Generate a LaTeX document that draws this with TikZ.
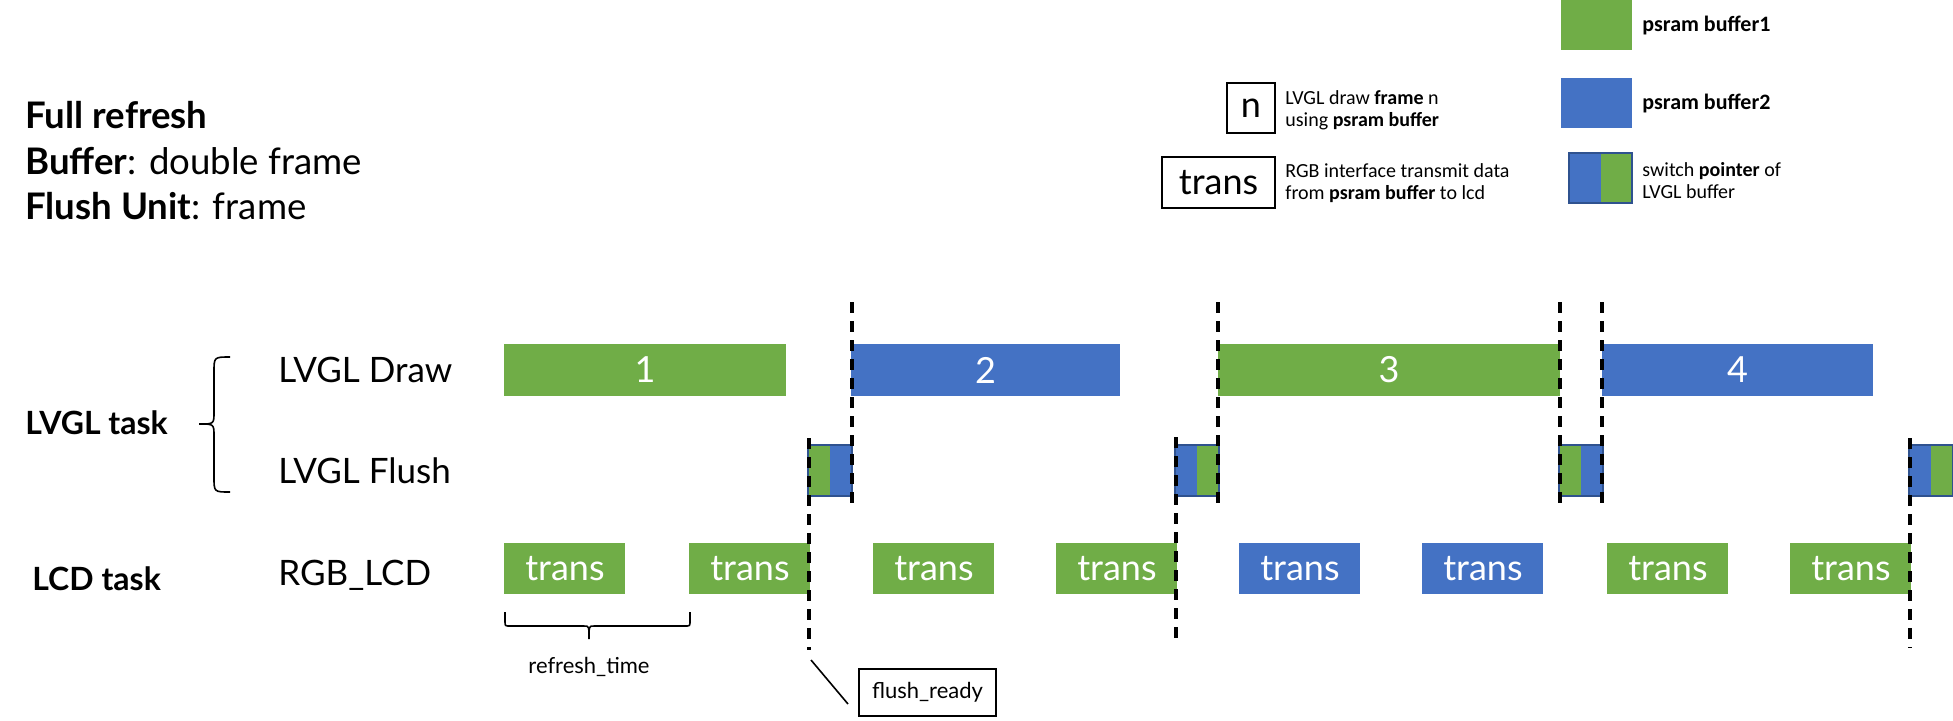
\documentclass[tikz,border=0pt]{standalone}
\usepackage{fontspec}
\setmainfont{Lato}
\newfontfamily\legendfont{Carlito}
\definecolor{bufgreen}{HTML}{70AD47}
\definecolor{bufblue}{HTML}{4472C4}
\definecolor{ptrblue}{HTML}{2F528F}
\begin{document}
\begin{tikzpicture}[x=0.5pt,y=-0.5pt,
	bar/.style={inner sep=0pt,minimum height=26pt,text=white,font=\fontsize{18}{20}\selectfont},
	transbox/.style={inner sep=0pt,minimum width=60.5pt,minimum height=25.5pt,text=white,font=\fontsize{18}{20}\selectfont},
	ptrbox/.style={inner sep=0pt,minimum width=22pt,minimum height=25.5pt},
	rowlabel/.style={anchor=base west,inner sep=0pt,font=\fontsize{17.5}{20}\selectfont},
	tasklabel/.style={anchor=base west,inner sep=0pt,font=\bfseries\fontsize{16}{18}\selectfont},
	guide/.style={line width=1.6pt,dash pattern=on 5.5pt off 4pt},
	legendtext/.style={anchor=west,inner sep=0pt,align=left,font=\legendfont\fontsize{10}{11}\selectfont}]
	\useasboundingbox (0,0) rectangle (1953,720);

	% title
	\node[anchor=base west,inner sep=0pt,font=\fontsize{18.3}{21}\selectfont] (t1) at (25,128) {\textbf{Full refresh}};
	\node[anchor=base west,inner sep=0pt,font=\fontsize{18.3}{21}\selectfont] (t2) at (25,174) {\textbf{Buffer}: double frame};
	\node[anchor=base west,inner sep=0pt,font=\fontsize{18.3}{21}\selectfont] (t3) at (25,219) {\textbf{Flush Unit}: frame};

	% legend
	\node[fill=bufgreen,inner sep=0pt,minimum width=35.5pt,minimum height=25pt] (sw1) at (1596.5,25) {};
	\node[legendtext,font=\legendfont\bfseries\fontsize{11}{12}\selectfont] (sw1t) at (1642,25) {psram buffer1};
	\node[fill=bufblue,inner sep=0pt,minimum width=35.5pt,minimum height=25pt] (sw2) at (1596.5,103) {};
	\node[legendtext,font=\legendfont\bfseries\fontsize{11}{12}\selectfont] (sw2t) at (1642,103) {psram buffer2};
	\node[inner sep=0pt,minimum width=31.5pt,minimum height=25pt] (sw3) at (1600.5,178) {};
	\fill[bufblue] (sw3.north west) rectangle (sw3.south);
	\fill[bufgreen] (sw3.north) rectangle (sw3.south east);
	\draw[ptrblue,line width=1pt] (sw3.north west) rectangle (sw3.south east);
	\node[legendtext] (sw3t) at (1642,181) {switch \textbf{pointer} of\\LVGL buffer};
	\node[draw,line width=1pt,inner sep=0pt,minimum width=24pt,minimum height=25pt,font=\fontsize{18}{20}\selectfont] (nbox) at (1251,108) {n};
	\node[legendtext] (nboxt) at (1285,110) {LVGL draw \textbf{frame} n\\using \textbf{psram buffer}};
	\node[draw,line width=1pt,inner sep=0pt,minimum width=56.5pt,minimum height=25.5pt,font=\fontsize{18}{20}\selectfont] (tbox) at (1218.5,182.5) {trans};
	\node[legendtext] (tboxt) at (1285,183) {RGB interface transmit data\\from \textbf{psram buffer} to lcd};

	% rows
	\node[tasklabel] (lvgltask) at (25,434) {LVGL task};
	\node[tasklabel] (lcdtask) at (32,590) {LCD task};
	\node[rowlabel] (draw) at (278,382) {LVGL Draw};
	\node[rowlabel] (flush) at (278,483) {LVGL Flush};
	\node[rowlabel] (rgb) at (278,585) {RGB\_LCD};
	\draw[line width=0.8pt] (230,357) .. controls (214,357) .. (214,372) -- (214,412) .. controls (214,424) .. (199,424) .. controls (214,424) .. (214,436) -- (214,477) .. controls (214,492) .. (230,492);

	% LVGL draw
	\node[bar,fill=bufgreen,minimum width=141pt] (d1) at (645,370) {1};
	\node[bar,fill=bufblue,minimum width=134.5pt] (d2) at (985.5,370) {2};
	\node[bar,fill=bufgreen,minimum width=171pt] (d3) at (1389,370) {3};
	\node[bar,fill=bufblue,minimum width=135.5pt] (d4) at (1737.5,370) {4};

	% LVGL flush
	\foreach \n/\x/\l/\r in {f1/830/bufgreen/bufblue,f2/1197/bufblue/bufgreen,f3/1581/bufgreen/bufblue,f4/1931/bufblue/bufgreen} {
		\node[ptrbox] (\n) at (\x,470.5) {};
		\fill[\l] (\n.north west) rectangle (\n.south);
		\fill[\r] (\n.north) rectangle (\n.south east);
		\draw[ptrblue,line width=1pt] (\n.north west) rectangle (\n.south east);
	}

	% RGB transmit
	\foreach \i/\x/\c in {1/504/bufgreen,2/689/bufgreen,3/873/bufgreen,4/1056/bufgreen,5/1239/bufblue,6/1422/bufblue,7/1607/bufgreen,8/1790/bufgreen}
		\node[transbox,fill=\c,anchor=west] (r\i) at (\x,568.5) {trans};

	% sync lines
	\draw[guide] (809,438) -- (809,650);
	\draw[guide] (852,302) -- (852,508);
	\draw[guide] (1176,437) -- (1176,645);
	\draw[guide] (1218,302) -- (1218,508);
	\draw[guide] (1560,302) -- (1560,508);
	\draw[guide] (1602,302) -- (1602,508);
	\draw[guide] (1910,438) -- (1910,648);

	% refresh time
	\draw[line width=0.8pt] (505,612) -- (505,621) .. controls (505,626) .. (510,626) -- (584,626) .. controls (589,626) .. (589,639) .. controls (589,626) .. (594,626) -- (685,626) .. controls (690,626) .. (690,621) -- (690,612);
	\node[font=\fontsize{11}{13}\selectfont] (rt) at (589,667) {refresh\_time};

	% flush ready
	\node[draw,line width=1pt,inner sep=0pt,minimum width=68.5pt,minimum height=23.5pt,font=\fontsize{11}{13}\selectfont] (fr) at (927.5,692.5) {flush\_ready};
	\coordinate (frtip) at (811,660);
	\coordinate (frend) at (848,704);
	\draw[line width=0.8pt] (frtip) -- (frend);
\end{tikzpicture}
\end{document}
